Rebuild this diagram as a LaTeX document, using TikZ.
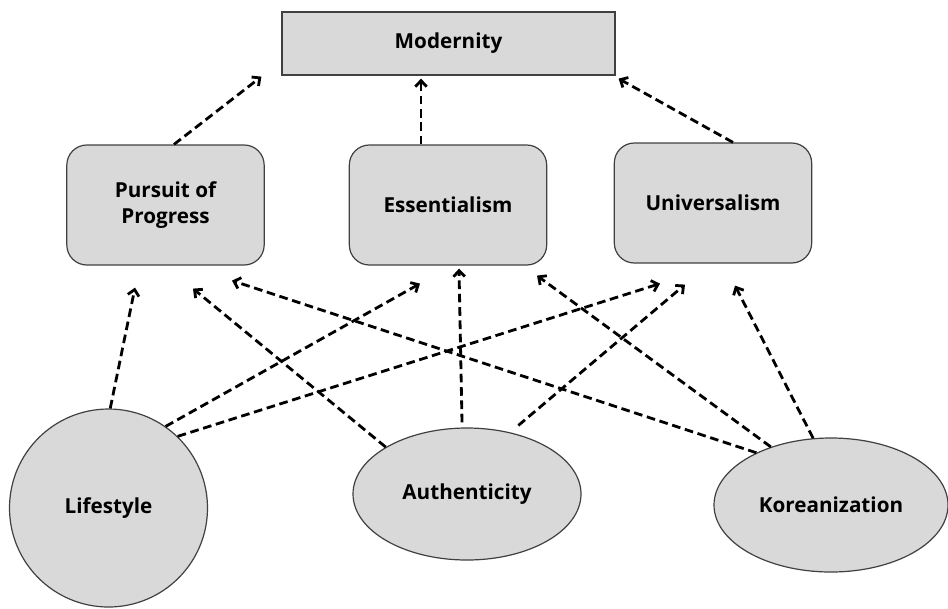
\documentclass[tikz,border=0pt]{standalone}
\usepackage{fontspec}
\setmainfont{Open Sans}
\usepackage{tikz}
\usetikzlibrary{shapes.geometric,arrows.meta}

\begin{document}
\begin{tikzpicture}[x=0.75pt,y=-0.75pt,
        concept/.style={draw=black!75, line width=0.9pt, fill=black!15, text=black,
            font=\bfseries\fontsize{15.5}{20}\selectfont, align=center, inner sep=0pt},
        factor/.style={concept, rounded corners=15pt, minimum width=148pt, minimum height=90pt},
        link/.style={dash pattern=on 6.5pt off 3.5pt, line width=2.1pt,
            -{Straight Barb[length=4.5pt,width=8.5pt]}}]
        \useasboundingbox (0,0) rectangle (948,608);

        \node[concept, rectangle, minimum width=249.75pt, minimum height=47.25pt] (modern) at (448.5,43.5) {Modernity};
        \node[factor] (progress) at (165.5,205) {Pursuit of\\Progress};
        \node[factor] (essent) at (448,205) {Essentialism};
        \node[factor] (univ) at (713,203) {Universalism};
        \node[concept, circle, minimum size=148.5pt] (life) at (108.5,508) {Lifestyle};
        \node[concept, ellipse, minimum width=171pt, minimum height=99pt] (auth) at (467,494) {Authenticity};
        \node[concept, ellipse, minimum width=175.5pt, minimum height=100.5pt] (korea) at (831,505) {Koreanization};

        % upper level
        \draw[link] ([shift={(8.5,0)}]progress.north) -- ([shift={(-20,1)}]modern.south west);
        \draw[link] ([shift={(-27,0)}]essent.north) -- ([shift={(-27.5,3)}]modern.south);
        \draw[link] ([shift={(20,0)}]univ.north) -- ([shift={(3,3)}]modern.south east);

        % lower level
        \draw[link] (life.89) -- ([shift={(-30.5,22)}]progress.south);
        \draw[link] (life.55) -- ([shift={(-28,18)}]essent.south);
        \draw[link] (life.46) -- ([shift={(-53,20)}]univ.south);
        \draw[link] (auth.150) -- ([shift={(27.5,23)}]progress.south);
        \draw[link] ([shift={(-5,-5)}]auth.north) -- ([shift={(11,3)}]essent.south);
        \draw[link, shorten <=8pt] (auth.55) -- ([shift={(-28,21)}]univ.south);
        \draw[link] (korea.145) -- ([shift={(66.5,15)}]progress.south);
        \draw[link] (korea.136) -- ([shift={(89,10)}]essent.south);
        \draw[link] (korea.105) -- ([shift={(22,22)}]univ.south);
    \end{tikzpicture}
\end{document}
